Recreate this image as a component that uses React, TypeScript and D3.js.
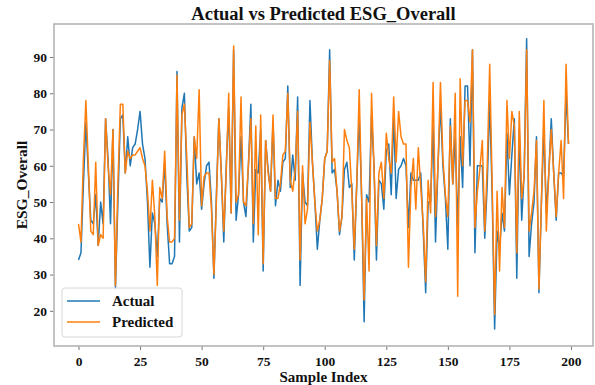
import { useEffect, useRef } from "react";
import * as d3 from "d3";

// values, index 0..199
const actual: number[] = [
  34, 36, 55, 72, 58, 45, 44, 52, 38, 50,
  44, 73, 62, 44, 70, 26, 50, 73, 74, 58,
  68, 60, 65, 66, 70, 75, 66, 62, 50, 32,
  47, 44, 35, 51, 50, 61, 44, 33, 33, 35,
  86, 39, 76, 80, 57, 42, 43, 68, 55, 58,
  48, 55, 60, 61, 50, 29, 52, 73, 58, 39,
  60, 76, 47, 92, 45, 52, 68, 50, 46, 60,
  77, 39, 59, 58, 70, 31, 67, 59, 53, 72,
  49, 56, 53, 61, 62, 82, 54, 63, 56, 79,
  27, 58, 50, 49, 78, 61, 50, 37, 45, 51,
  62, 64, 92, 58, 59, 53, 41, 46, 59, 61,
  54, 55, 34, 55, 74, 51, 17, 52, 50, 74,
  60, 34, 56, 55, 48, 64, 66, 52, 74, 51,
  59, 60, 62, 60, 43, 58, 56, 56, 56, 58,
  42, 25, 50, 50, 71, 39, 60, 77, 60, 51,
  37, 73, 55, 68, 43, 68, 54, 82, 82, 60,
  92, 36, 60, 60, 60, 40, 55, 78, 52, 15,
  42, 37, 47, 42, 69, 52, 63, 73, 29, 70,
  45, 58, 95, 35, 44, 50, 68, 25, 50, 70,
  47, 58, 73, 58, 45, 58, 58, 57, 80, 66,
];

const predicted: number[] = [
  44, 39, 62, 78, 60, 42, 41, 61, 38, 41,
  40, 73, 60, 52, 70, 27, 55, 77, 77, 58,
  64, 62, 63, 63, 64, 65, 62, 60, 53, 42,
  56, 46, 27, 54, 51, 64, 46, 39, 39, 40,
  85, 45, 74, 77, 62, 43, 44, 68, 62, 81,
  49, 57, 58, 58, 48, 30, 50, 73, 58, 42,
  58, 80, 47, 93, 50, 52, 79, 50, 49, 60,
  73, 44, 71, 41, 74, 33, 67, 58, 53, 74,
  51, 51, 55, 63, 64, 80, 56, 53, 59, 75,
  34, 60, 44, 48, 72, 61, 50, 42, 45, 51,
  62, 64, 89, 61, 62, 53, 42, 46, 70, 67,
  65, 53, 37, 55, 81, 51, 23, 51, 31, 80,
  60, 38, 58, 61, 51, 69, 62, 58, 79, 61,
  75, 68, 66, 66, 32, 54, 62, 48, 65, 54,
  44, 28, 56, 47, 83, 46, 60, 83, 62, 52,
  46, 71, 55, 80, 24, 84, 60, 78, 78, 72,
  92, 43, 53, 59, 67, 42, 60, 88, 55, 19,
  53, 31, 54, 43, 78, 62, 75, 71, 36, 75,
  51, 57, 92, 42, 47, 53, 67, 26, 50, 78,
  42, 58, 70, 58, 46, 58, 67, 51, 88, 66,
];

const xTicks = [0, 25, 50, 75, 100, 125, 150, 175, 200];
const yTicks = [20, 30, 40, 50, 60, 70, 80, 90];

const series = [
  { name: "Actual", values: actual, color: "#1f77b4" },
  { name: "Predicted", values: predicted, color: "#ff7f0e" },
];

const W = 595;
const H = 385;
const FONT = "'Liberation Serif', 'Times New Roman', serif";

export default function App() {
  const svgRef = useRef<SVGSVGElement>(null);

  useEffect(() => {
    if (!svgRef.current) return;
    document.body.style.margin = "0";

    const svg = d3.select(svgRef.current);
    svg.selectAll("*").remove();

    const left = 54;
    const right = 593;
    const top = 24;
    const bottom = 346;

    const n = actual.length;
    const pad = (n - 1) * 0.05;
    const x = d3
      .scaleLinear()
      .domain([-pad, n - 1 + pad])
      .range([left, right]);

    const y = d3.scaleLinear().domain([10.3, 99.1]).range([bottom, top]);

    svg.append("rect").attr("width", W).attr("height", H).attr("fill", "#fff");

    // lines
    const line = d3
      .line<number>()
      .x((_, i) => x(i))
      .y((d) => y(d));

    series.forEach((s) => {
      svg
        .append("path")
        .datum(s.values)
        .attr("fill", "none")
        .attr("stroke", s.color)
        .attr("stroke-width", 1.5)
        .attr("stroke-linejoin", "round")
        .attr("d", line);
    });

    // axes
    const xAxis = svg
      .append("g")
      .attr("transform", `translate(0,${bottom})`)
      .call(d3.axisBottom(x).tickValues(xTicks).tickSize(4).tickPadding(6));

    const yAxis = svg
      .append("g")
      .attr("transform", `translate(${left},0)`)
      .call(d3.axisLeft(y).tickValues(yTicks).tickSize(4).tickPadding(3));

    [xAxis, yAxis].forEach((ax) => {
      ax.select(".domain").remove();
      ax.selectAll("line").attr("stroke", "#555").attr("stroke-width", 0.8);
      ax.selectAll("text")
        .attr("fill", "#111")
        .style("font-family", FONT)
        .style("font-size", "13.5px")
        .style("font-weight", "bold");
    });

    // frame
    svg
      .append("rect")
      .attr("x", left)
      .attr("y", top)
      .attr("width", right - left)
      .attr("height", bottom - top)
      .attr("fill", "none")
      .attr("stroke", "#b5b5b5")
      .attr("stroke-width", 1.6);

    // title + labels
    svg
      .append("text")
      .attr("x", (left + right) / 2)
      .attr("y", 20)
      .attr("text-anchor", "middle")
      .style("font-family", FONT)
      .style("font-size", "18.5px")
      .style("font-weight", "bold")
      .attr("fill", "#111")
      .text("Actual vs Predicted ESG_Overall");

    svg
      .append("text")
      .attr("x", (left + right) / 2)
      .attr("y", 382)
      .attr("text-anchor", "middle")
      .style("font-family", FONT)
      .style("font-size", "15px")
      .style("font-weight", "bold")
      .attr("fill", "#111")
      .text("Sample Index");

    svg
      .append("text")
      .attr("transform", `translate(27,${(top + bottom) / 2}) rotate(-90)`)
      .attr("text-anchor", "middle")
      .style("font-family", FONT)
      .style("font-size", "15.5px")
      .style("font-weight", "bold")
      .attr("fill", "#111")
      .text("ESG_Overall");

    // legend
    const lg = svg.append("g").attr("transform", "translate(62,288)");
    lg.append("rect")
      .attr("width", 120)
      .attr("height", 49)
      .attr("rx", 3)
      .attr("fill", "#fff")
      .attr("fill-opacity", 0.8)
      .attr("stroke", "#d6d6d6")
      .attr("stroke-width", 1);

    series.forEach((s, i) => {
      const ly = 13 + i * 21;
      lg.append("line")
        .attr("x1", 5)
        .attr("x2", 38)
        .attr("y1", ly)
        .attr("y2", ly)
        .attr("stroke", s.color)
        .attr("stroke-width", 1.5);
      lg.append("text")
        .attr("x", 50)
        .attr("y", ly + 5)
        .style("font-family", FONT)
        .style("font-size", "15px")
        .style("font-weight", "bold")
        .attr("fill", "#111")
        .text(s.name);
    });
  }, []);

  return (
    <svg
      ref={svgRef}
      width={W}
      height={H}
      viewBox={`0 0 ${W} ${H}`}
      style={{ display: "block" }}
    />
  );
}
